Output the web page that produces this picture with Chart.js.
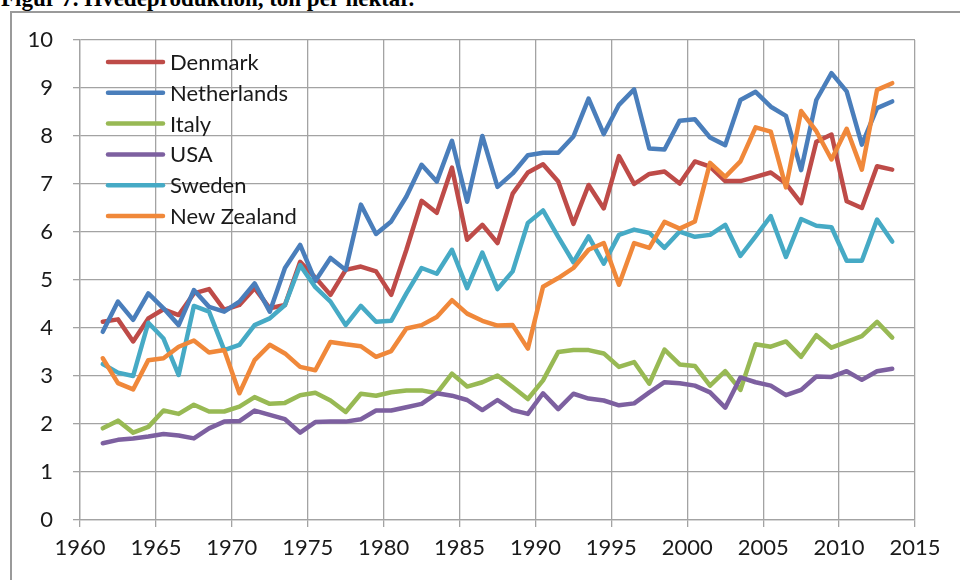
<!DOCTYPE html>
<html>
<head>
<meta charset="utf-8">
<script src="https://cdn.jsdelivr.net/npm/chart.js@4.4.0/dist/chart.umd.min.js"></script>
<style>
  html, body { margin: 0; padding: 0; background: #fff; overflow: hidden; }
  #wrap { position: relative; width: 960px; height: 580px; }
  #title { position: absolute; left: 1px; top: -13px; font: bold 23px "Liberation Serif", serif; line-height: 23px; color: #000; white-space: nowrap; }
  #frame { position: absolute; left: 10px; top: 11px; width: 1000px; height: 620px; border: 2px solid #9a9a9a; }
  #yieldChart { position: absolute; left: 0; top: 0; }
</style>
</head>
<body>
<div id="wrap">
  <div id="title">Figur 7. Hvedeproduktion, ton per hektar.</div>
  <div id="frame"></div>
  <canvas id="yieldChart" width="960" height="580"></canvas>
</div>
<script>
// ton per hektar, 1961-2013
const years = [];
for (let y = 1961; y <= 2013; y++) years.push(y);

const denmark = [4.13, 4.18, 3.72, 4.20, 4.39, 4.27, 4.72, 4.81, 4.38, 4.48,
  4.83, 4.41, 4.48, 5.38, 5.05, 4.69, 5.21, 5.28, 5.18, 4.69,
  5.63, 6.65, 6.40, 7.34, 5.84, 6.15, 5.77, 6.80, 7.24, 7.41,
  7.05, 6.17, 6.98, 6.49, 7.58, 7.00, 7.21, 7.26, 7.01, 7.47,
  7.36, 7.06, 7.06, 7.15, 7.24, 7.01, 6.60, 7.88, 8.03, 6.64,
  6.50, 7.37, 7.30];
const netherlands = [3.92, 4.55, 4.17, 4.72, 4.41, 4.06, 4.79, 4.44, 4.34, 4.55,
  4.93, 4.34, 5.25, 5.73, 4.98, 5.46, 5.21, 6.57, 5.96, 6.22,
  6.74, 7.40, 7.05, 7.90, 6.63, 8.00, 6.94, 7.22, 7.60, 7.65,
  7.65, 7.99, 8.78, 8.04, 8.65, 8.97, 7.74, 7.72, 8.32, 8.35,
  7.97, 7.81, 8.75, 8.92, 8.61, 8.42, 7.29, 8.75, 9.31, 8.93,
  7.82, 8.58, 8.72];
const italy = [1.91, 2.07, 1.82, 1.94, 2.28, 2.21, 2.40, 2.26, 2.26, 2.36,
  2.56, 2.42, 2.44, 2.60, 2.65, 2.49, 2.25, 2.63, 2.59, 2.66,
  2.70, 2.70, 2.64, 3.05, 2.78, 2.87, 3.01, 2.77, 2.52, 2.91,
  3.50, 3.54, 3.54, 3.47, 3.19, 3.29, 2.84, 3.55, 3.24, 3.21,
  2.80, 3.10, 2.71, 3.66, 3.61, 3.72, 3.40, 3.85, 3.59, 3.71,
  3.83, 4.13, 3.80];
const usa = [1.60, 1.67, 1.70, 1.74, 1.79, 1.76, 1.70, 1.91, 2.05, 2.06,
  2.28, 2.19, 2.10, 1.82, 2.04, 2.05, 2.05, 2.10, 2.28, 2.28,
  2.35, 2.42, 2.64, 2.59, 2.50, 2.29, 2.50, 2.29, 2.21, 2.64,
  2.31, 2.63, 2.53, 2.49, 2.39, 2.43, 2.66, 2.87, 2.85, 2.80,
  2.66, 2.34, 2.97, 2.87, 2.80, 2.60, 2.71, 2.99, 2.98, 3.10,
  2.92, 3.10, 3.15];
const sweden = [3.25, 3.07, 3.00, 4.11, 3.78, 3.02, 4.46, 4.34, 3.54, 3.65,
  4.06, 4.20, 4.48, 5.31, 4.85, 4.55, 4.06, 4.46, 4.13, 4.15,
  4.72, 5.25, 5.13, 5.63, 4.83, 5.57, 4.81, 5.18, 6.19, 6.45,
  5.90, 5.37, 5.91, 5.34, 5.94, 6.05, 5.98, 5.67, 6.01, 5.90,
  5.94, 6.15, 5.50, 5.91, 6.33, 5.48, 6.27, 6.13, 6.10, 5.40,
  5.40, 6.26, 5.80];
const newZealand = [3.37, 2.85, 2.72, 3.33, 3.37, 3.61, 3.74, 3.49, 3.54, 2.64,
  3.33, 3.65, 3.47, 3.19, 3.12, 3.71, 3.66, 3.62, 3.40, 3.52,
  3.99, 4.06, 4.23, 4.58, 4.30, 4.15, 4.05, 4.06, 3.57, 4.86,
  5.04, 5.25, 5.63, 5.77, 4.90, 5.77, 5.67, 6.21, 6.07, 6.22,
  7.44, 7.15, 7.47, 8.18, 8.09, 6.93, 8.52, 8.10, 7.51, 8.15,
  7.30, 8.96, 9.10];

const seriesNames = ['Denmark', 'Netherlands', 'Italy', 'USA', 'Sweden', 'New Zealand'];
const seriesValues = [denmark, netherlands, italy, usa, sweden, newZealand];
const seriesColors = ['#BE4B48', '#4A7EBB', '#98B954', '#7D60A0', '#46AAC5', '#F0883A'];

const xTickMin = 1960, xTickMax = 2015, xStep = 5;
const yTickMin = 0, yTickMax = 10, yStep = 1;

Chart.defaults.font.family = 'Lato, "Liberation Sans", sans-serif';
Chart.defaults.font.size = 22;
Chart.defaults.color = '#1a1a1a';

const gridColor = '#a3a3a3';

// legend drawn inside the plot, top-left, like the excel original
const insideLegend = {
    id: 'insideLegend',
    afterDraw(chart) {
        const ctx = chart.ctx;
        const area = chart.chartArea;
        const x0 = area.left + 28;
        let y = area.top + 22;
        ctx.save();
        ctx.font = '22px Lato, "Liberation Sans", sans-serif';
        ctx.textBaseline = 'middle';
        ctx.fillStyle = '#1a1a1a';
        chart.data.datasets.forEach(ds => {
            ctx.beginPath();
            ctx.strokeStyle = ds.borderColor;
            ctx.lineWidth = 4.5;
            ctx.lineCap = 'round';
            ctx.moveTo(x0, y);
            ctx.lineTo(x0 + 55, y);
            ctx.stroke();
            ctx.fillText(ds.label, x0 + 62, y + 1);
            y += 30.8;
        });
        ctx.restore();
    }
};

const ctx = document.getElementById('yieldChart').getContext('2d');

new Chart(ctx, {
    type: 'line',
    data: {
        datasets: seriesNames.map((name, i) => ({
            label: name,
            // excel plotted each yearly value at mid-year
            data: years.map((yr, j) => ({ x: yr + 0.5, y: seriesValues[i][j] })),
            borderColor: seriesColors[i],
            backgroundColor: seriesColors[i],
            borderWidth: 4.5,
            pointRadius: 0,
            tension: 0,
            borderCapStyle: 'round',
            borderJoinStyle: 'round',
            order: seriesNames.length - i
        }))
    },
    options: {
        responsive: false,
        animation: false,
        layout: { padding: { left: 20, top: 40, right: 45, bottom: 0 } },
        plugins: {
            legend: { display: false },
            tooltip: { enabled: false }
        },
        scales: {
            x: {
                type: 'linear',
                min: xTickMin,
                max: xTickMax,
                afterFit: s => { s.height = 60; },
                grid: { color: gridColor, lineWidth: 1.3, tickLength: 7 },
                border: { color: gridColor, width: 1.3 },
                ticks: {
                    stepSize: xStep,
                    padding: 8,
                    maxRotation: 0,
                    callback: v => String(v)
                }
            },
            y: {
                min: yTickMin,
                max: yTickMax,
                afterFit: s => { s.width = 60; },
                grid: { color: gridColor, lineWidth: 1.3, tickLength: 7 },
                border: { color: gridColor, width: 1.3 },
                ticks: {
                    stepSize: yStep,
                    padding: 20,
                    callback: v => String(v)
                }
            }
        }
    },
    plugins: [insideLegend]
});
</script>
</body>
</html>
